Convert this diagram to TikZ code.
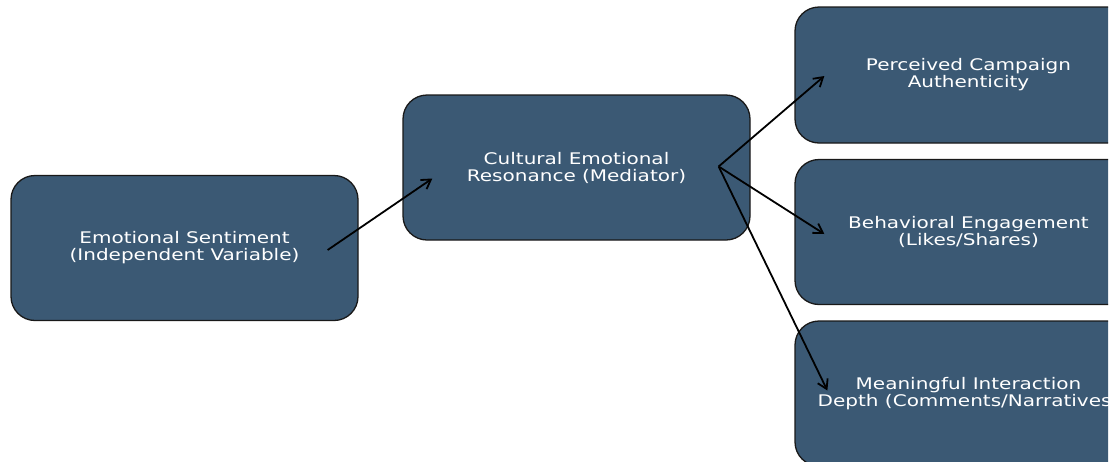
\documentclass[tikz,border=0pt]{standalone}
\usepackage{fontspec}
\setmainfont{DejaVu Sans}
\usepackage{graphicx}
\usetikzlibrary{arrows.meta,positioning}
\definecolor{boxblue}{RGB}{59,89,116}
\definecolor{boxedge}{RGB}{25,25,25}
\newcommand{\wide}[1]{\scalebox{1.25}[1]{#1}}

\begin{document}
\begin{tikzpicture}[x=1pt, y=-1pt,
	box/.style={draw=boxedge, line width=1.3pt, fill=boxblue, rounded corners=24pt,
		minimum width=347pt, minimum height=145pt, inner sep=0pt,
		text=white, align=center, font=\fontsize{16}{17}\selectfont},
	link/.style={line width=1.8pt, -{Straight Barb[length=9pt,width=11pt,line width=1.8pt]}}]
	\useasboundingbox (0,0) rectangle (1113,461);
	\clip (0,0) rectangle (1108,461);
	
	\node[box] (sentiment) at (184.5,248) {\wide{Emotional Sentiment}\\\wide{(Independent Variable)}};
	\node[box] (resonance) at (576.5,167.5) {\wide{Cultural Emotional}\\\wide{Resonance (Mediator)}};
	\node[box, minimum height=136pt] (authentic) at (968.5,75) {\wide{Perceived Campaign}\\\wide{Authenticity}};
	\node[box] (engage) at (968.5,232) {\wide{Behavioral Engagement}\\\wide{(Likes/Shares)}};
	\node[box] (depth) at (968.5,393.5) {\wide{Meaningful Interaction}\\\wide{Depth (Comments/Narratives)}};
	
	% arrow ends sit inside the boxes
	\path
	([xshift=-31pt,yshift=-2pt]sentiment.east) coordinate (s-out)
	([xshift=30pt,yshift=-11pt]resonance.west) coordinate (r-in)
	([xshift=-32pt,yshift=1pt]resonance.east) coordinate (r-out)
	([xshift=30pt,yshift=-1pt]authentic.west) coordinate (a-in)
	([xshift=30pt,yshift=-2pt]engage.west) coordinate (e-in)
	([xshift=33pt,yshift=3pt]depth.west) coordinate (d-in)
	;
	
	\draw[link] (s-out) -- (r-in);
	\draw[link] (r-out) -- (a-in);
	\draw[link] (r-out) -- (e-in);
	\draw[link] (r-out) -- (d-in);
\end{tikzpicture}
\end{document}
